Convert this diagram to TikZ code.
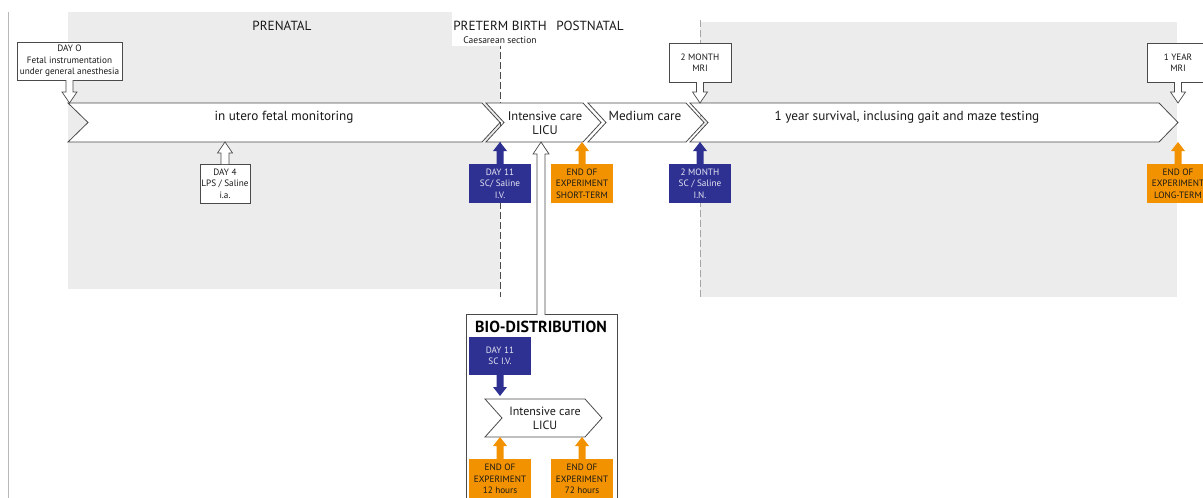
\documentclass[tikz,border=0pt]{standalone}
\usepackage{fontspec}
\setmainfont{PT Sans}
\usetikzlibrary{calc}

\definecolor{panel}{HTML}{ECECEC}
\definecolor{navy}{HTML}{2E3192}
\definecolor{amber}{HTML}{F39200}
\definecolor{edge}{HTML}{4A4A4A}

\tikzset{
  x=1pt, y=-1pt,
  every node/.style={inner sep=0pt, outer sep=0pt},
  arshaft/.store in=\arShaft, arhead/.store in=\arHead, arlen/.store in=\arLen,
  arshaft=3.5pt, arhead=7.5pt, arlen=11pt,
  tag/.style={draw=edge, line width=0.8pt, fill=white, align=center,
    font=\fontsize{9.2}{11.5}\selectfont, text=black!90},
  bluetag/.style={fill=navy, align=center,
    font=\fontsize{9.2}{11.5}\selectfont, text=white!88!navy},
  ambertag/.style={fill=amber, align=center,
    font=\fontsize{9.2}{11.5}\selectfont, text=black!90},
  stage/.style={draw=edge, line width=0.8pt, fill=white, line join=miter},
  stagetext/.style={font=\fontsize{13.2}{14}\selectfont, align=center, text=black!90},
  period/.style={font=\fontsize{13.2}{14}\selectfont, text=black!90},
  hollow/.style={draw=edge, line width=0.7pt, fill=white},
  bluearrow/.style={fill=navy, arshaft=3.5pt, arhead=7pt, arlen=9pt},
  amberarrow/.style={fill=amber, arshaft=3.5pt, arhead=7pt, arlen=9pt},
}

% block arrow from a tail point to a tip point (vertical); the tail end stays open
\newcommand{\blockarrow}[3][]{%
  \path[#1, draw=none] let \p1=#2, \p2=#3, \p3=($#3!\arLen!#2$) in
    (\x1-\arShaft,\y1) -- (\x1-\arShaft,\y3) -- (\x1-\arHead,\y3) -- (\x2,\y2)
    -- (\x1+\arHead,\y3) -- (\x1+\arShaft,\y3) -- (\x1+\arShaft,\y1) -- cycle;
  \path[#1, fill=none] let \p1=#2, \p2=#3, \p3=($#3!\arLen!#2$) in
    (\x1-\arShaft,\y1) -- (\x1-\arShaft,\y3) -- (\x1-\arHead,\y3) -- (\x2,\y2)
    -- (\x1+\arHead,\y3) -- (\x1+\arShaft,\y3) -- (\x1+\arShaft,\y1);
}

\begin{document}
\begin{tikzpicture}
\clip (0,0) rectangle (1203,498);
\fill[white] (0,0) rectangle (1203,498);

% left margin rule
\draw[black!28, line width=1.5pt] (8.5,12) -- (8.5,498);

% period panels
\fill[panel] (68,12) rectangle (500,289);
\fill[panel] (700,22) rectangle (1177,297);

% birth and 2-month markers
\draw[edge, line width=0.8pt, dash pattern=on 7pt off 3pt] (500,12) -- (500,297);
\draw[black!35, line width=0.8pt, dash pattern=on 7pt off 3pt] (700,20) -- (700,297);

% period headings
\fill[white] (452,12) rectangle (548,46);
\node[period] (prenatal) at (282,26) {PRENATAL};
\node[period] (birth) at (500,26) {PRETERM BIRTH};
\node[font=\fontsize{9.5}{10}\selectfont, text=black!90] (caes) at (500,40) {Caesarean section};
\node[period] (postnatal) at (590,26) {POSTNATAL};

% timeline stages
\draw[stage] (68,103) -- (482,103) -- (500,122.5) -- (482,142) -- (68,142) -- (88,122.5) -- cycle;
\draw[stage] (486,103) -- (583,103) -- (601,122.5) -- (583,142) -- (486,142) -- (504,122.5) -- cycle;
\draw[stage] (588,103) -- (686,103) -- (704,122.5) -- (686,142) -- (588,142) -- (606,122.5) -- cycle;
\draw[stage] (690,103) -- (1159,103) -- (1178,122.5) -- (1159,142) -- (690,142) -- (708,122.5) -- cycle;
\coordinate (tltop) at (0,103);
\coordinate (tlbot) at (0,142);

\node[stagetext] (utero) at (284,117) {in utero fetal monitoring};
\node[stagetext, font=\fontsize{12.5}{14}\selectfont] (icu) at (545,123) {Intensive care\\LICU};
\node[stagetext] (medium) at (645,116) {Medium care};
\node[stagetext] (survival) at (907,117) {1 year survival, inclusing gait and maze testing};

% event boxes above the timeline
\node[tag, minimum width=105, minimum height=38] (day0) at (69.5,61)
  {DAY O\\Fetal instrumentation\\under general anesthesia};
\node[tag, minimum width=62, minimum height=39] (mri2) at (700,62.5) {2 MONTH\\MRI};
\node[tag, minimum width=62, minimum height=39] (yr1) at (1178,62.5) {1 YEAR\\MRI};

% event boxes below the timeline
\node[tag, minimum width=50, minimum height=39] (day4) at (225,183.5) {DAY 4\\LPS / Saline\\i.a.};
\node[bluetag, minimum width=62, minimum height=39] (d11) at (500,183.5) {DAY 11\\SC/ Saline\\I.V.};
\node[ambertag, minimum width=62, minimum height=39] (endst) at (582,183.5) {END OF\\EXPERIMENT\\SHORT-TERM};
\node[bluetag, minimum width=62, minimum height=39] (mon2) at (700,183.5) {2 MONTH\\SC / Saline\\I.N.};
\node[ambertag, minimum width=62, minimum height=39] (endlt) at (1178,183.5) {END OF\\EXPERIMENT\\LONG-TERM};

% arrows onto the timeline
\blockarrow[hollow]{(day0.south)}{(day0.south |- tltop)}
\blockarrow[hollow]{(mri2.south)}{(mri2.south |- tltop)}
\blockarrow[hollow]{(yr1.south)}{(yr1.south |- tltop)}
\blockarrow[hollow, arshaft=4pt]{(day4.north)}{(day4.north |- tlbot)}
\blockarrow[bluearrow]{(d11.north)}{(d11.north |- tlbot)}
\blockarrow[amberarrow]{(endst.north)}{(endst.north |- tlbot)}
\blockarrow[bluearrow]{(mon2.north)}{(mon2.north |- tlbot)}
\blockarrow[amberarrow]{(endlt.north)}{(endlt.north |- tlbot)}

% bio-distribution study
\node[draw=edge, line width=0.8pt, minimum width=151, minimum height=200, anchor=north west] (bio) at (466,314) {};
\coordinate (biotail) at (541,315.2);
\blockarrow[hollow, arshaft=4pt, arhead=8pt, arlen=12pt]{(biotail)}{(biotail |- tlbot)}
\node[font=\bfseries\fontsize{16}{18}\selectfont] (biotitle) at (541,326.5) {BIO-DISTRIBUTION};

\node[bluetag, minimum width=62, minimum height=38] (bd11) at (500,356) {DAY 11\\SC I.V.};
\draw[stage] (485,399) -- (585,399) -- (602,418) -- (585,437) -- (485,437) -- (502,418) -- cycle;
\coordinate (biotop) at (0,396);
\coordinate (biobot) at (0,437);
\node[stagetext, font=\fontsize{12}{14}\selectfont] (bioicu) at (545,418) {Intensive care\\LICU};
\node[ambertag, minimum width=62, minimum height=40] (end12) at (500,479) {END OF\\EXPERIMENT\\12 hours};
\node[ambertag, minimum width=62, minimum height=40] (end72) at (582,479) {END OF\\EXPERIMENT\\72 hours};

\blockarrow[bluearrow]{(bd11.south)}{(bd11.south |- biotop)}
\blockarrow[amberarrow]{(end12.north)}{(end12.north |- biobot)}
\blockarrow[amberarrow]{(end72.north)}{(end72.north |- biobot)}
\end{tikzpicture}
\end{document}
